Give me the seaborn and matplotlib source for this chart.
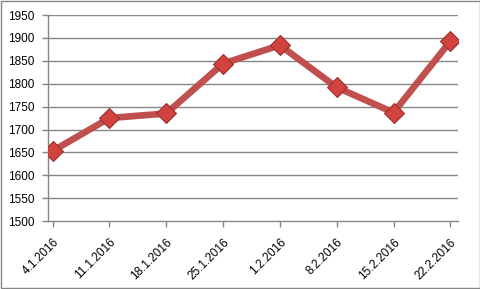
import matplotlib
matplotlib.use("Agg")
import matplotlib.pyplot as plt
import seaborn as sns
import pandas as pd

dates = ["4.1.2016", "11.1.2016", "18.1.2016", "25.1.2016",
         "1.2.2016", "8.2.2016", "15.2.2016", "22.2.2016"]
values = [1653, 1725, 1735, 1844, 1884, 1792, 1737, 1893]
yticks = [1500, 1550, 1600, 1650, 1700, 1750, 1800, 1850, 1900, 1950]

sns.set_theme(style="white")
plt.rcParams['font.family'] = ['Liberation Sans', 'DejaVu Sans']

df = pd.DataFrame({"idx": range(len(dates)), "date": dates, "value": values})

fig = plt.figure(figsize=(4.81, 2.89), dpi=100)
fig.patch.set_facecolor("white")
ax = fig.add_axes([0.0998, 0.235, 0.852, 0.713])

grid_c = "#868686"
for y in yticks[1:]:
    ax.axhline(y, color=grid_c, lw=1.0, zorder=0)

sns.lineplot(data=df, x="idx", y="value", ax=ax, color="#C0504D", lw=4.8,
             marker="D", markersize=10, markerfacecolor="#D2423F",
             markeredgecolor="#9E2E2B", markeredgewidth=0.8, zorder=3)

ax.set_xlim(-0.08, 7.13)
ax.set_ylim(1500, 1950)
ax.set_yticks(yticks)
ax.set_yticklabels([str(v) for v in yticks])
ax.set_xticks(range(len(dates)))
ax.set_xticklabels(dates, rotation=45, ha="right", rotation_mode="anchor")
ax.set_xlabel("")
ax.set_ylabel("")

for s in ["top", "right"]:
    ax.spines[s].set_visible(False)
for s in ["left", "bottom"]:
    ax.spines[s].set_color(grid_c)
    ax.spines[s].set_linewidth(1.0)

ax.tick_params(axis="y", which="both", left=True, length=4, width=1,
               color=grid_c, pad=6, labelsize=8.5, labelcolor="black")
ax.tick_params(axis="x", which="both", bottom=True, length=4, width=1,
               color=grid_c, pad=7, labelsize=8.5, labelcolor="black")

border = plt.Rectangle((0.002, 0.003), 0.995, 0.993, transform=fig.transFigure,
                       fill=False, edgecolor="#868686", lw=1.0)
fig.patches.append(border)

fig.savefig("out.png", dpi=100)
